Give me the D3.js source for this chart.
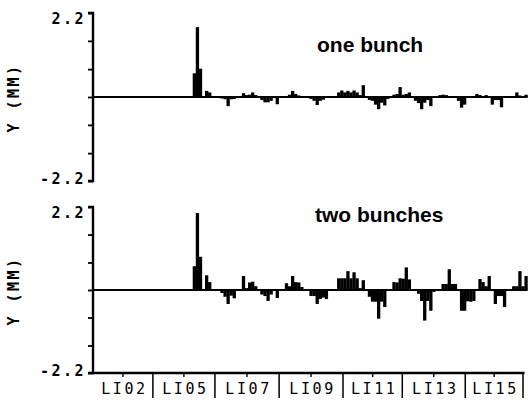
<!DOCTYPE html>
<html>
<head>
<meta charset="utf-8">
<script src="https://cdn.jsdelivr.net/npm/d3@7"></script>
<style>
  body { margin: 0; background: #fff; }
  svg { display: block; }
</style>
</head>
<body>
<div id="chart"></div>
<script>
// beam position monitor readings along the linac (index = monitor number)
var oneIdx = [33, 34, 35, 37, 38, 42, 43, 44, 45, 46, 49, 50, 51, 52, 53,
  55, 56, 57, 58, 59, 60, 64, 65, 66, 67, 71, 72, 73, 74, 75,
  80, 81, 82, 83, 84, 85, 86, 87, 88, 90, 91, 92, 93, 94, 95, 96,
  98, 99, 100, 101, 102, 103, 105, 106, 107, 108, 109, 110,
  113, 114, 115, 119, 120, 121, 125, 126, 128, 130, 131, 132, 133, 138, 139, 141];
var oneVal = [0.62, 1.83, 0.74, 0.16, 0.12, -0.04, -0.06, -0.24, -0.06, -0.05, 0.10, 0.05, 0.06, 0.12, 0.05,
  -0.08, -0.14, -0.14, -0.10, -0.03, -0.19, 0.06, 0.16, 0.08, 0.04, -0.05, -0.10, -0.21, -0.10, -0.07,
  0.12, 0.17, 0.12, 0.16, 0.12, 0.17, 0.12, 0.05, 0.31, -0.08, -0.10, -0.20, -0.32, -0.15, -0.22, -0.05,
  0.06, 0.08, 0.26, 0.06, 0.08, 0.12, -0.10, -0.16, -0.32, -0.15, -0.08, -0.24,
  0.05, 0.06, 0.05, -0.10, -0.28, -0.20, 0.08, 0.05, 0.05, -0.20, -0.08, -0.08, -0.27, 0.12, 0.04, 0.06];

var twoIdx = [33, 34, 35, 37, 38, 42, 43, 44, 45, 46, 49, 50, 51, 52, 53,
  55, 56, 57, 58, 60, 63, 64, 65, 66, 67, 68, 71, 72, 73, 74, 75, 76,
  80, 81, 82, 83, 84, 85, 86, 87, 88, 90, 91, 92, 93, 94, 95,
  98, 99, 100, 101, 102, 103, 106, 107, 108, 109, 110, 111,
  114, 115, 116, 117, 118, 120, 121, 122, 123, 124, 126, 127, 128, 129,
  131, 132, 133, 134, 137, 138, 139, 140, 141];
var twoVal = [0.63, 2.04, 0.88, 0.39, 0.21, -0.08, -0.18, -0.37, -0.15, -0.22, 0.37, 0.05, 0.20, 0.22, 0.10,
  -0.12, -0.16, -0.29, -0.12, -0.21, 0.18, 0.10, 0.37, 0.21, 0.20, 0.08, -0.16, -0.16, -0.37, -0.24, -0.20, -0.24,
  0.31, 0.31, 0.31, 0.50, 0.31, 0.47, 0.31, 0.05, 0.26, -0.18, -0.31, -0.31, -0.76, -0.31, -0.45,
  0.21, 0.20, 0.31, 0.30, 0.60, 0.28, -0.10, -0.29, -0.81, -0.29, -0.55, -0.05,
  0.16, 0.16, 0.55, 0.16, 0.16, -0.55, -0.55, -0.30, -0.31, -0.29, 0.29, 0.21, 0.10, 0.37,
  -0.37, -0.16, -0.16, -0.45, 0.10, 0.10, 0.50, 0.10, 0.37];

var yTicks = [-2.2, -1.47, -0.73, 0, 0.73, 1.47, 2.2];
var yLabels = [2.2, -2.2];

// sector boundaries (in monitor index) and their names
var sectorEdges = [0, 19.5, 39.7, 60.6, 81.4, 100.7, 121.2, 140];
var sectorNames = ['LI02', 'LI05', 'LI07', 'LI09', 'LI11', 'LI13', 'LI15'];

var svg = d3.select('#chart').append('svg').attr('width', 530).attr('height', 402);

var x = d3.scaleLinear().domain([0, 140]).range([93, 523]);
var barW = 3.3;
var mono = '"DejaVu Sans Mono", "Liberation Mono", monospace';

drawPanel(oneIdx, oneVal, [181, 13], 'one bunch', 317, 52, false);
drawPanel(twoIdx, twoVal, [373, 207], 'two bunches', 315, 222, true);

function drawPanel(idx, vals, range, title, tx, ty, withX) {
    var y = d3.scaleLinear().domain([-2.2, 2.2]).range(range);
    var g = svg.append('g');

    // bars
    for (var i = 0; i < idx.length; i++) {
        var v = vals[i];
        g.append('rect')
            .attr('x', x(idx[i]) - barW / 2)
            .attr('y', Math.min(y(v), y(0)))
            .attr('width', barW)
            .attr('height', Math.abs(y(v) - y(0)))
            .attr('fill', '#000');
    }

    // zero line
    g.append('line')
        .attr('x1', x(0)).attr('x2', x(141.5))
        .attr('y1', y(0)).attr('y2', y(0))
        .attr('stroke', '#000').attr('stroke-width', 2);

    // y axis
    var ax = g.append('g')
        .attr('transform', 'translate(' + x(0) + ',0)')
        .call(d3.axisLeft(y).tickValues(yTicks).tickSize(5).tickFormat(''));
    ax.select('.domain').attr('stroke-width', 2.4).attr('d', 'M-5,' + range[1] + 'H0V' + range[0] + 'H-5');
    ax.selectAll('.tick line').attr('stroke-width', 1.8);

    yLabels.forEach(function(v) {
        g.append('text')
            .attr('x', 86)
            .attr('y', v > 0 ? y(v) + 11 : y(v) + 3)
            .attr('text-anchor', 'end')
            .attr('font-family', mono)
            .attr('font-weight', 'bold')
            .attr('font-size', 15)
            .attr('letter-spacing', 2.5)
            .text(v.toFixed(1));
    });

    g.append('text')
        .attr('transform', 'translate(19,' + (y(0) + 1) + ') rotate(-90)')
        .attr('text-anchor', 'middle')
        .attr('font-family', mono)
        .attr('font-weight', 'bold')
        .attr('font-size', 15)
        .attr('letter-spacing', 2.5)
        .text('Y (MM)');

    g.append('text')
        .attr('x', tx).attr('y', ty)
        .attr('font-family', '"Liberation Sans", Arial, sans-serif')
        .attr('font-weight', 'bold')
        .attr('font-size', 21)
        .text(title);

    if (!withX) return;

    var base = range[0];
    g.append('line')
        .attr('x1', x(0)).attr('x2', x(140.5))
        .attr('y1', base).attr('y2', base)
        .attr('stroke', '#000').attr('stroke-width', 2.4);

    sectorEdges.slice(1).forEach(function(e) {
        g.append('line')
            .attr('x1', x(e)).attr('x2', x(e))
            .attr('y1', base).attr('y2', base + 25)
            .attr('stroke', '#000').attr('stroke-width', 1.5);
    });

    for (var s = 0; s < sectorNames.length; s++) {
        var mid = (sectorEdges[s] + sectorEdges[s + 1]) / 2;
        g.append('line')
            .attr('x1', x(mid)).attr('x2', x(mid))
            .attr('y1', base).attr('y2', base + 4)
            .attr('stroke', '#000').attr('stroke-width', 1.4);
        g.append('text')
            .attr('x', x(mid) + 1.5)
            .attr('y', base + 21)
            .attr('text-anchor', 'middle')
            .attr('font-family', mono)
            .attr('font-size', 15)
            .attr('letter-spacing', 2.6)
            .text(sectorNames[s]);
    }
}
</script>
</body>
</html>
